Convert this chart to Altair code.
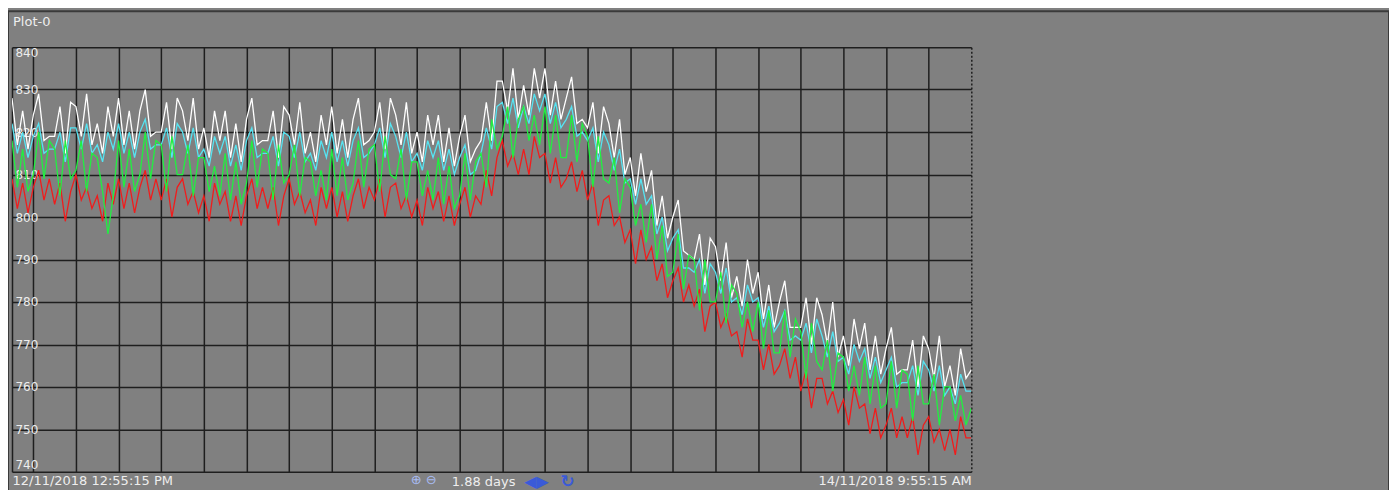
import altair as alt
import pandas as pd

# time axis: hours since 12/11/2018 12:55:15 PM, one sample every 15 minutes
HOURS = [i * 0.25 for i in range(181)]

WHITE = [
    828, 817, 825, 816, 824, 829, 818, 819, 819, 826, 815, 827, 826, 819, 829, 817, 822, 815, 826, 819,
    828, 817, 825, 816, 825, 830, 819, 820, 820, 827, 816, 828, 825, 818, 828, 816, 821, 814, 825, 818,
    825, 814, 822, 813, 823, 828, 817, 818, 818, 825, 814, 826, 824, 817, 827, 815, 820, 813, 824, 817,
    826, 815, 823, 814, 823, 828, 817, 818, 820, 827, 816, 828, 824, 817, 827, 815, 820, 813, 824, 817,
    824, 813, 821, 812, 819, 824, 813, 816, 818, 827, 818, 832, 832, 825, 835, 823, 831, 824, 835, 828,
    835, 824, 832, 823, 828, 833, 822, 823, 821, 827, 815, 826, 822, 814, 823, 810, 814, 805, 815, 806,
    811, 798, 805, 795, 800, 804, 792, 791, 790, 796, 784, 795, 793, 785, 794, 781, 786, 779, 790, 782,
    787, 776, 784, 774, 780, 785, 774, 774, 774, 781, 770, 781, 777, 770, 780, 767, 772, 765, 776, 769,
    775, 764, 772, 763, 769, 774, 763, 764, 764, 771, 760, 772, 769, 762, 772, 760, 765, 758, 769, 762,
    764,
]

CYAN = [
    822, 815, 820, 814, 819, 822, 815, 816, 816, 820, 813, 821, 821, 816, 822, 815, 817, 813, 820, 816,
    822, 815, 820, 814, 820, 823, 816, 817, 817, 821, 814, 822, 820, 815, 821, 814, 816, 812, 819, 815,
    819, 812, 817, 811, 818, 821, 814, 815, 815, 819, 812, 820, 819, 814, 820, 813, 815, 811, 818, 814,
    820, 813, 818, 812, 818, 821, 814, 815, 817, 821, 814, 822, 819, 814, 820, 813, 815, 811, 818, 814,
    818, 811, 816, 810, 814, 817, 810, 811, 815, 821, 816, 826, 827, 822, 828, 821, 826, 822, 829, 825,
    829, 822, 827, 821, 823, 826, 819, 820, 818, 821, 813, 820, 817, 811, 816, 808, 809, 803, 809, 803,
    805, 796, 800, 792, 795, 797, 788, 788, 787, 790, 782, 789, 787, 782, 788, 780, 781, 777, 784, 780,
    781, 774, 779, 773, 775, 778, 771, 772, 771, 775, 768, 776, 772, 767, 773, 766, 767, 763, 770, 766,
    769, 762, 767, 761, 764, 767, 760, 761, 761, 765, 758, 766, 764, 759, 765, 758, 760, 756, 763, 759,
    759,
]

GREEN = [
    818, 807, 816, 806, 810, 820, 809, 818, 816, 805, 818, 809, 811, 818, 806, 815, 814, 806, 796, 805,
    818, 807, 816, 806, 810, 820, 809, 818, 817, 806, 819, 810, 810, 817, 805, 814, 814, 806, 812, 805,
    815, 804, 813, 803, 808, 818, 807, 816, 815, 804, 817, 808, 810, 817, 805, 814, 813, 805, 811, 804,
    816, 805, 814, 804, 808, 818, 807, 816, 817, 806, 819, 810, 809, 816, 804, 813, 813, 805, 811, 804,
    814, 803, 812, 802, 805, 815, 804, 813, 815, 807, 823, 816, 819, 826, 814, 823, 826, 818, 824, 817,
    826, 815, 824, 814, 814, 824, 813, 822, 819, 807, 819, 809, 808, 814, 801, 809, 807, 798, 803, 794,
    803, 790, 798, 786, 787, 796, 783, 791, 790, 778, 790, 780, 780, 787, 775, 784, 782, 774, 780, 773,
    780, 769, 778, 768, 768, 778, 767, 776, 773, 762, 775, 766, 764, 771, 759, 768, 767, 759, 765, 758,
    767, 756, 765, 755, 756, 766, 755, 764, 763, 752, 765, 756, 756, 763, 751, 760, 760, 752, 758, 751,
    755,
]

RED = [
    809, 802, 808, 801, 807, 811, 804, 809, 803, 808, 799, 806, 810, 804, 807, 802, 805, 799, 808, 803,
    809, 802, 808, 801, 807, 811, 804, 809, 804, 809, 800, 807, 809, 803, 806, 801, 805, 799, 808, 803,
    806, 799, 805, 798, 805, 809, 802, 807, 802, 807, 798, 805, 809, 803, 806, 801, 804, 798, 807, 802,
    807, 800, 806, 799, 805, 809, 802, 807, 804, 809, 800, 807, 808, 802, 805, 800, 804, 798, 807, 802,
    806, 799, 805, 798, 803, 807, 800, 805, 803, 811, 805, 814, 818, 812, 815, 810, 816, 810, 819, 814,
    815, 808, 814, 807, 809, 813, 806, 811, 804, 808, 798, 804, 805, 798, 800, 794, 797, 789, 797, 790,
    793, 785, 789, 781, 785, 788, 780, 784, 779, 783, 773, 779, 780, 774, 777, 772, 773, 767, 776, 771,
    771, 764, 770, 763, 765, 769, 762, 767, 759, 764, 755, 762, 762, 756, 759, 754, 757, 751, 760, 755,
    756, 749, 755, 748, 751, 755, 748, 753, 748, 753, 744, 751, 753, 747, 750, 745, 750, 744, 753, 748,
    748,
]

SERIES_NAMES = ["white", "cyan", "red", "green"]
SERIES_VALUES = [WHITE, CYAN, RED, GREEN]
SERIES_COLORS = ["#ffffff", "#55e4f2", "#f01c1c", "#20f040"]

X_GRID = [0] + list(range(1, 46, 2))
Y_TICKS = list(range(740, 841, 10))
TITLE = "Plot-0"
START_LABEL = "12/11/2018 12:55:15 PM"
END_LABEL = "14/11/2018 9:55:15 AM"
SPAN_LABEL = "1.88 days"

rows = []
for name, vals in zip(SERIES_NAMES, SERIES_VALUES):
    for h, v in zip(HOURS, vals):
        rows.append({"series": name, "hours": h, "value": v})
df = pd.DataFrame(rows)

GRID_COLOR = "#1e1e1e"
LABEL_COLOR = "#eeeeee"

x_enc = alt.X(
    "hours:Q",
    scale=alt.Scale(domain=[0, 45], nice=False, zero=False),
    axis=alt.Axis(
        values=X_GRID,
        grid=True,
        gridColor=GRID_COLOR,
        gridWidth=1.5,
        gridOpacity=1,
        gridDash={"condition": {"test": "datum.value == 45", "value": [2, 2]}, "value": []},
        labelExpr=f"datum.value == 0 ? '{START_LABEL}' : (datum.value == 45 ? '{END_LABEL}' : '')",
        labelFlush=True,
        labelOverlap=False,
        labelFont="DejaVu Sans",
        labelFontSize=13,
        labelColor=LABEL_COLOR,
        labelPadding=3,
        ticks=False,
        domain=False,
        title=None,
    ),
)

y_enc = alt.Y(
    "value:Q",
    scale=alt.Scale(domain=[740, 840], nice=False, zero=False),
    axis=alt.Axis(
        values=Y_TICKS,
        grid=True,
        gridColor=GRID_COLOR,
        gridWidth=1.5,
        gridOpacity=1,
        labelAlign="left",
        labelPadding=-3,
        ticks=False,
        tickSize=0,
        domain=False,
        labelFlush=True,
        labelOverlap=False,
        labelFont="DejaVu Sans",
        labelFontSize=12,
        labelColor=LABEL_COLOR,
        title=None,
    ),
)

layers = []
for name, color in zip(SERIES_NAMES, SERIES_COLORS):
    layers.append(
        alt.Chart(df)
        .transform_filter(alt.datum.series == name)
        .mark_line(color=color, strokeWidth=1.3, clip=True)
        .encode(x=x_enc, y=y_enc)
    )

# panel frame around the whole trend window
frame_df = pd.DataFrame({"k": ["frame"]})
frame = alt.Chart(frame_df).mark_rect(
    fillOpacity=0, stroke="#3a3a3a", strokeWidth=2
).encode(x=alt.value(-4), x2=alt.value(1378), y=alt.value(-36), y2=alt.value(446))

title_df = pd.DataFrame({"t": [TITLE]})
title_text = alt.Chart(title_df).mark_text(
    font="DejaVu Sans", fontSize=13, color=LABEL_COLOR, align="left", baseline="alphabetic"
).encode(x=alt.value(1), y=alt.value(-21), text="t:N")

span_df = pd.DataFrame({"t": [SPAN_LABEL]})
span_text = alt.Chart(span_df).mark_text(
    font="DejaVu Sans", fontSize=13, color=LABEL_COLOR, align="center", baseline="middle"
).encode(x=alt.value(472), y=alt.value(435), text="t:N")

nav_df = pd.DataFrame({"t": ["\u25C0\u25B6"]})
nav_text = alt.Chart(nav_df).mark_text(
    font="DejaVu Sans", fontSize=16, color="#3a5ad8", align="center", baseline="middle"
).encode(x=alt.value(525), y=alt.value(435), text="t:N")

refresh_df = pd.DataFrame({"t": ["\u21BB"]})
refresh_text = alt.Chart(refresh_df).mark_text(
    font="DejaVu Sans", fontSize=17, fontWeight="bold", color="#3a5ad8", align="center", baseline="middle"
).encode(x=alt.value(556), y=alt.value(435), text="t:N")

zoom_df = pd.DataFrame({"t": ["\u2295 \u2296"]})
zoom_text = alt.Chart(zoom_df).mark_text(
    font="DejaVu Sans", fontSize=13, color="#a8bcf4", align="center", baseline="middle"
).encode(x=alt.value(412), y=alt.value(433), text="t:N")

chart = (
    alt.layer(*layers, frame, title_text, span_text, nav_text, refresh_text, zoom_text)
    .properties(
        width=960,
        height=425,
        padding={"left": 4, "top": 39, "right": 418, "bottom": 18},
        autosize=alt.AutoSizeParams(type="none"),
    )
    .configure(background="#808080")
    .configure_view(strokeWidth=0)
)

chart.save("out.html", embed_options={"renderer": "svg", "actions": False})
